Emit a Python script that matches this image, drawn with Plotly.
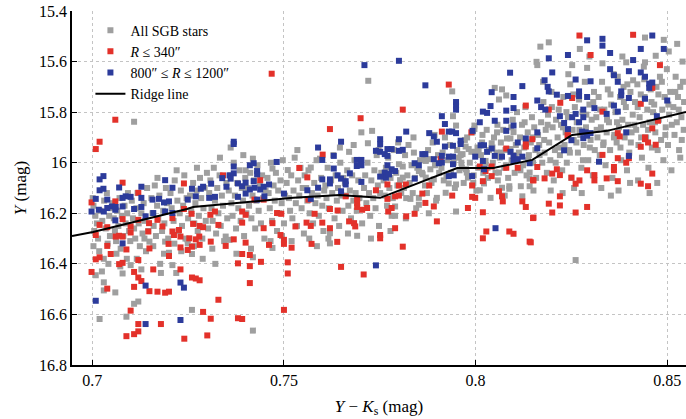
import plotly.graph_objects as go

# ---------------- data ----------------
# All SGB stars: (Y-Ks, Y)
all_sgb = [
(0.7001,16.14),(0.7003,16.17),(0.7008,16.21),(0.7012,16.24),(0.7005,16.27),(0.7015,16.30),(0.7021,16.19),(0.7026,16.23),(0.7031,16.15),(0.7035,16.26),(0.7040,16.32),(0.7044,16.21),(0.7018,16.35),(0.7030,16.38),(0.7009,16.445),(0.7030,16.473),(0.7030,16.505),(0.7019,16.618),(0.7046,16.29),(0.7048,16.18),(0.7003,16.33),(0.7038,16.12),(0.7025,16.43),(0.7042,16.40),
(0.7053,16.16),(0.7056,16.22),(0.7059,16.27),(0.7062,16.31),(0.7065,16.19),(0.7068,16.25),(0.7071,16.14),(0.7074,16.34),(0.7077,16.21),(0.7081,16.29),(0.7084,16.17),(0.7087,16.24),(0.7090,16.38),(0.7093,16.12),(0.7096,16.27),(0.7099,16.31),(0.7079,16.438),(0.7100,16.405),(0.7060,16.513),(0.7089,16.609),(0.7063,16.36),(0.7073,16.41),(0.7091,16.20),
(0.7103,16.15),(0.7106,16.22),(0.7109,16.26),(0.7112,16.30),(0.7115,16.18),(0.7118,16.12),(0.7121,16.24),(0.7124,16.33),(0.7128,16.20),(0.7131,16.28),(0.7134,16.16),(0.7137,16.23),(0.7140,16.35),(0.7143,16.10),(0.7146,16.27),(0.7149,16.312),(0.7128,16.422),(0.7109,16.558),(0.7120,16.549),(0.7109,15.838),(0.7116,16.38),(0.7136,16.30),
(0.7154,16.14),(0.7157,16.20),(0.7160,16.25),(0.7163,16.09),(0.7166,16.29),(0.7169,16.17),(0.7172,16.22),(0.7175,16.13),(0.7179,16.436),(0.7182,16.27),(0.7185,16.19),(0.7188,16.24),(0.7190,16.312),(0.7192,16.10),(0.7195,16.16),(0.7198,16.30),(0.7200,16.356),(0.7159,16.33),(0.7170,16.06),(0.7187,16.36),(0.7177,16.40),
(0.7204,16.12),(0.7207,16.18),(0.7209,16.405),(0.7212,16.23),(0.7215,16.07),(0.7219,16.436),(0.7222,16.15),(0.7225,16.27),(0.7228,16.20),(0.7231,16.11),(0.7234,16.25),(0.7237,16.17),(0.7240,16.05),(0.7243,16.30),(0.7246,16.14),(0.7248,16.303),(0.7249,16.319),(0.7250,16.22),(0.7214,16.32),(0.7232,16.35),(0.7220,16.03),
(0.7255,16.13),(0.7258,16.19),(0.7260,16.361),(0.7260,16.582),(0.7263,16.08),(0.7266,16.24),(0.7269,16.16),(0.7272,16.11),(0.7275,16.27),(0.7278,16.21),(0.7281,16.06),(0.7284,16.14),(0.7287,16.30),(0.7290,16.18),(0.7293,16.10),(0.7296,16.23),(0.7299,16.04),(0.7302,16.26),(0.7265,16.33),(0.7288,16.38),(0.7273,16.02),
(0.7305,16.12),(0.7308,16.07),(0.7311,16.18),(0.7314,16.23),(0.7317,16.02),(0.7320,16.15),(0.7323,16.28),(0.7326,16.10),(0.7329,16.20),(0.7332,16.05),(0.7335,16.25),(0.7338,16.13),(0.7341,16.17),(0.7344,16.31),(0.7348,16.292),(0.7350,16.08),(0.7352,16.22),(0.7313,16.34),(0.7333,15.98),(0.7321,16.40),
(0.7356,16.11),(0.7358,16.305),(0.7360,16.05),(0.7363,16.16),(0.7366,16.21),(0.7369,16.00),(0.7372,16.13),(0.7375,16.26),(0.7378,16.08),(0.7381,16.18),(0.7384,16.03),(0.7387,16.23),(0.7390,16.10),(0.7393,16.15),(0.7396,16.29),(0.7399,16.06),(0.7402,16.20),(0.7361,15.94),(0.7376,16.36),(0.7394,15.97),
(0.7406,16.10),(0.7409,16.17),(0.7412,16.04),(0.7415,16.22),(0.7418,16.13),(0.7419,15.984),(0.7419,16.374),(0.7419,16.664),(0.7422,16.07),(0.7425,16.26),(0.7428,16.15),(0.7431,16.01),(0.7434,16.19),(0.7437,16.09),(0.7440,16.24),(0.7443,16.05),(0.7446,16.14),(0.7449,16.30),(0.7452,16.11),(0.7400,16.03),(0.7414,16.34),
(0.7457,16.06),(0.7460,16.12),(0.7463,16.18),(0.7466,16.00),(0.7469,16.23),(0.7470,16.023),(0.7470,16.337),(0.7473,16.09),(0.7476,16.15),(0.7479,16.04),(0.7482,16.27),(0.7485,16.11),(0.7488,16.20),(0.7491,16.07),(0.7494,16.16),(0.7497,15.99),(0.7500,16.24),(0.7503,16.13),(0.7465,16.31),(0.7495,16.29),
(0.7507,16.08),(0.7510,16.029),(0.7513,16.14),(0.7516,16.19),(0.7519,16.05),(0.7522,16.22),(0.7525,16.11),(0.7528,15.98),(0.7531,16.16),(0.7534,16.25),(0.7537,16.07),(0.7540,16.13),(0.7543,16.02),(0.7546,16.18),(0.7549,16.10),(0.7552,16.28),(0.7554,16.05),(0.7520,16.31),(0.7535,15.95),
(0.7558,16.10),(0.7561,16.15),(0.7564,16.03),(0.7567,16.20),(0.7570,16.019),(0.7573,16.12),(0.7576,16.24),(0.7579,16.08),(0.7582,16.16),(0.7585,15.99),(0.7588,16.13),(0.7591,16.21),(0.7594,15.984),(0.7597,16.06),(0.7600,16.17),(0.7603,16.27),(0.7605,16.11),(0.7566,16.30),(0.7586,16.33),
(0.7608,16.09),(0.7611,16.14),(0.7614,16.02),(0.7617,16.18),(0.7620,16.279),(0.7620,16.319),(0.7623,16.07),(0.7626,16.12),(0.7629,15.97),(0.7632,16.22),(0.7635,16.05),(0.7638,16.15),(0.7641,16.10),(0.7644,16.25),(0.7647,16.00),(0.7650,16.13),(0.7653,16.19),(0.7655,16.06),(0.7616,16.30),(0.7646,15.94),
(0.7659,16.08),(0.7662,16.13),(0.7665,16.03),(0.7668,16.17),(0.7670,15.957),(0.7672,16.11),(0.7675,16.22),(0.7678,16.05),(0.7681,16.15),(0.7684,15.99),(0.7687,16.12),(0.7690,16.19),(0.7691,16.289),(0.7694,16.07),(0.7697,16.14),(0.7700,16.01),(0.7702,15.88),(0.7704,16.24),(0.7667,16.28),(0.7682,15.93),
(0.7709,16.10),(0.7712,16.05),(0.7715,16.16),(0.7718,16.00),(0.7719,15.923),(0.7720,15.676),(0.7722,16.12),(0.7725,16.21),(0.7728,16.07),(0.7730,15.874),(0.7733,16.14),(0.7736,16.03),(0.7739,16.18),(0.7742,15.97),(0.7745,16.09),(0.7748,16.25),(0.7751,16.12),(0.7754,16.04),(0.7727,16.30),(0.7747,15.95),
(0.7760,16.07),(0.7763,16.13),(0.7766,16.02),(0.7769,16.17),(0.7772,15.98),(0.7775,16.10),(0.7778,16.06),(0.7781,16.21),(0.7784,16.14),(0.7787,15.95),(0.7790,16.173),(0.7790,16.21),(0.7793,16.04),(0.7796,16.09),(0.7800,16.006),(0.7803,16.069),(0.7806,16.12),(0.7778,16.27),(0.7798,15.92),
(0.7810,16.015),(0.7810,16.059),(0.7813,16.10),(0.7816,15.97),(0.7819,16.14),(0.7822,16.05),(0.7825,15.93),(0.7828,16.08),(0.7830,16.143),(0.7833,16.01),(0.7836,16.12),(0.7839,15.96),(0.7842,16.06),(0.7845,16.18),(0.7848,16.02),(0.7852,16.033),(0.7852,16.139),(0.7852,16.166),(0.7855,15.99),(0.7818,16.22),(0.7838,15.90),
(0.7860,16.04),(0.7862,16.046),(0.7865,15.98),(0.7868,16.09),(0.7870,15.993),(0.7870,16.059),(0.7873,16.12),(0.7876,15.95),(0.7879,15.986),(0.7882,16.026),(0.7885,16.08),(0.7888,15.92),(0.7891,16.066),(0.7894,16.01),(0.7897,16.15),(0.7899,16.139),(0.7902,15.97),(0.7905,16.04),(0.7878,16.20),(0.7893,15.89),
(0.7911,16.02),(0.7914,15.96),(0.7917,16.07),(0.7920,15.90),(0.7922,16.119),(0.7924,16.053),(0.7927,15.99),(0.7930,16.082),(0.7933,15.93),(0.7936,16.04),(0.7939,15.718),(0.7941,15.816),(0.7943,16.00),(0.7946,16.10),(0.7949,15.853),(0.7949,16.086),(0.7949,16.193),(0.7952,15.95),(0.7956,15.98),(0.7958,16.03),
(0.7961,15.97),(0.7964,16.02),(0.7966,15.966),(0.7969,16.08),(0.7972,15.91),(0.7974,15.936),(0.7975,16.026),(0.7977,16.039),(0.7980,16.059),(0.7982,15.946),(0.7985,16.00),(0.7989,15.957),(0.7992,15.88),(0.7995,16.05),(0.7997,15.853),(0.7997,15.867),(0.7999,15.957),(0.8002,16.11),(0.8005,15.94),(0.8007,16.02),
(0.8011,16.109),(0.8014,15.97),(0.8017,15.92),(0.8020,16.04),(0.8022,16.082),(0.8026,15.993),(0.8026,16.01),(0.8029,15.87),(0.8032,16.06),(0.8035,15.95),(0.8039,16.139),(0.8042,15.923),(0.8045,16.00),(0.8048,15.90),(0.8050,15.704),(0.8052,16.039),(0.8055,15.96),(0.8058,16.07),(0.8061,15.75),(0.8061,16.039),(0.8057,15.85),
(0.8063,15.98),(0.8066,15.92),(0.8069,15.71),(0.8069,16.099),(0.8072,15.87),(0.8075,16.02),(0.8078,15.95),(0.8080,15.734),(0.8082,15.904),(0.8085,16.06),(0.8088,16.093),(0.8088,16.103),(0.8091,15.904),(0.8091,15.946),(0.8094,15.99),(0.8097,15.83),(0.8099,15.879),(0.8102,16.04),(0.8105,15.93),(0.8108,15.80),(0.8076,16.13),
(0.8113,15.96),(0.8116,15.90),(0.8118,16.093),(0.8121,15.85),(0.8124,16.01),(0.8127,15.94),(0.8130,15.78),(0.8133,16.05),(0.8136,15.88),(0.8139,15.97),(0.8141,16.039),(0.8141,16.063),(0.8141,16.093),(0.8144,15.92),(0.8147,15.82),(0.8150,16.00),(0.8153,15.86),(0.8156,15.95),(0.8159,15.601),(0.8161,15.614),(0.8122,16.133),(0.8151,16.11),
(0.8163,15.89),(0.8166,15.93),(0.8169,15.541),(0.8171,15.84),(0.8174,16.00),(0.8177,15.76),(0.8180,15.96),(0.8183,15.87),(0.8186,16.04),(0.8189,15.81),(0.8191,15.524),(0.8192,15.92),(0.8195,15.99),(0.8198,15.72),(0.8201,15.86),(0.8204,16.07),(0.8207,15.95),(0.8210,15.83),(0.8176,15.68),(0.8196,16.11),
(0.8214,15.90),(0.8217,15.79),(0.8220,15.97),(0.8223,15.85),(0.8226,16.03),(0.8229,15.74),(0.8232,15.93),(0.8235,15.88),(0.8238,16.00),(0.8241,15.82),(0.8244,15.95),(0.8247,15.69),(0.8250,16.06),(0.8252,15.614),(0.8253,15.87),(0.8256,15.91),(0.8259,15.78),(0.8261,16.385),(0.8227,16.12),(0.8257,16.10),(0.8242,15.65),
(0.8264,15.84),(0.8267,15.96),(0.8270,15.75),(0.8273,15.89),(0.8276,16.02),(0.8279,15.80),(0.8282,15.93),(0.8285,15.68),(0.8288,15.86),(0.8291,15.625),(0.8294,15.99),(0.8297,15.77),(0.8300,15.91),(0.8303,15.83),(0.8306,16.05),(0.8309,15.72),(0.8311,15.95),(0.8277,16.12),(0.8297,15.58),(0.8272,15.55),
(0.8315,15.82),(0.8318,15.90),(0.8321,15.74),(0.8324,15.97),(0.8327,15.86),(0.8330,15.68),(0.8331,15.607),(0.8333,15.93),(0.8336,15.79),(0.8339,16.01),(0.8342,15.88),(0.8345,15.71),(0.8348,15.84),(0.8351,15.95),(0.8354,15.77),(0.8357,16.06),(0.8360,15.65),(0.8362,15.89),(0.8328,16.10),(0.8353,16.13),
(0.8365,15.80),(0.8368,15.92),(0.8371,15.66),(0.8374,15.86),(0.8377,15.74),(0.8380,15.99),(0.8383,15.83),(0.8386,15.70),(0.8389,15.90),(0.8392,15.78),(0.8393,15.603),(0.8395,16.03),(0.8398,15.85),(0.8401,15.96),(0.8404,15.72),(0.8407,15.88),(0.8410,15.81),(0.8411,15.674),(0.8373,16.11),(0.8403,16.08),(0.8383,15.58),
(0.8416,15.76),(0.8419,15.87),(0.8422,15.69),(0.8425,15.93),(0.8428,15.82),(0.8431,15.73),(0.8434,15.98),(0.8437,15.85),(0.8440,15.67),(0.8442,15.505),(0.8442,15.603),(0.8445,15.90),(0.8448,15.79),(0.8451,16.02),(0.8454,15.84),(0.8457,15.71),(0.8460,15.94),(0.8463,15.80),(0.8424,16.07),(0.8454,16.12),(0.8439,15.62),
(0.8466,15.77),(0.8469,15.88),(0.8470,15.577),(0.8472,15.70),(0.8475,15.95),(0.8478,15.83),(0.8481,15.66),(0.8484,15.91),(0.8487,15.79),(0.8490,15.99),(0.8491,15.514),(0.8493,15.74),(0.8496,15.86),(0.8499,15.63),(0.8502,15.93),(0.8505,15.81),(0.8508,15.72),(0.8511,16.03),(0.8474,16.08),(0.8504,15.56),
(0.8516,15.78),(0.8519,15.89),(0.8522,15.66),(0.8525,15.84),(0.8528,15.74),(0.8531,15.95),(0.8534,15.70),(0.8537,15.82),(0.8540,15.60),(0.8543,15.87),(0.8526,15.53),(0.8534,15.98),(0.8544,15.76),
(0.7963,16.00),(0.7978,15.90),(0.7994,16.08),(0.8008,15.95),(0.8018,15.89),(0.8031,16.02),(0.8044,15.94),(0.8056,15.88),(0.8067,15.96),(0.8079,16.01),(0.8093,15.86),(0.8104,15.97),(0.8117,16.03),(0.8128,15.84),(0.8137,15.99),(0.8149,15.90),(0.8158,16.06),(0.8167,15.97),(0.8179,15.91),(0.8188,15.85),
(0.8199,15.78),(0.8209,16.00),(0.8218,15.94),(0.8228,15.86),(0.8237,15.80),(0.8246,15.96),(0.8255,15.73),(0.8263,15.92),(0.8271,15.87),(0.8280,15.99),(0.8289,15.81),(0.8298,15.94),(0.8307,15.76),(0.8316,15.87),(0.8325,15.79),(0.8334,15.92),(0.8343,15.83),(0.8352,15.73),(0.8361,15.90),(0.8369,15.84),
(0.8378,15.94),(0.8387,15.76),(0.8396,15.69),(0.8405,15.92),(0.8414,15.85),(0.8423,15.78),(0.8432,15.90),(0.8441,15.74),(0.8450,15.87),(0.8459,15.76),(0.8468,15.84),(0.8477,15.73),(0.8486,15.68),(0.8495,15.89),(0.8503,15.77),(0.8512,15.85),(0.8521,15.72),(0.8530,15.79),(0.8538,15.91),(0.8541,15.68),
]

# R <= 340 arcsec
inner_stars = [
(0.7060,15.83),(0.7019,15.917),(0.7009,15.946),(0.6998,16.157),(0.7060,16.153),(0.7079,16.079),(0.7120,16.119),(0.7079,16.223),(0.7019,16.246),(0.7039,16.255),(0.7100,16.252),(0.7120,16.226),(0.7148,16.239),(0.7170,16.226),(0.7183,16.252),(0.7209,16.219),(0.7009,16.286),(0.7061,16.292),(0.7070,16.289),(0.7079,16.292),(0.7100,16.276),(0.7146,16.272),(0.7089,16.343),(0.7039,16.329),(0.7048,16.361),(0.7009,16.382),(0.7019,16.374),(0.7070,16.401),(0.7079,16.396),(0.7120,16.385),(0.7149,16.339),(0.7199,16.321),(0.7200,16.369),(0.6998,16.432),(0.7109,16.432),(0.7120,16.454),(0.7128,16.468),(0.7159,16.422),(0.7109,16.491),(0.7039,16.498),(0.7149,16.508),(0.7170,16.51),(0.7190,16.514),(0.7200,16.51),(0.7100,16.585),(0.7120,16.638),(0.7179,16.638),(0.7120,16.667),(0.7109,16.678),(0.7089,16.686),
(0.7239,16.082),(0.7239,16.183),(0.7259,16.202),(0.7263,16.242),(0.7280,16.25),(0.7289,16.255),(0.7308,16.206),(0.7320,16.193),(0.7329,16.246),(0.7341,16.05),(0.7209,16.272),(0.7213,16.286),(0.7226,16.266),(0.7230,16.292),(0.7253,16.299),(0.7279,16.292),(0.7230,16.335),(0.7249,16.345),(0.7260,16.332),(0.7280,16.325),(0.7270,16.303),(0.7309,16.312),(0.7348,16.329),(0.7230,16.422),(0.7260,16.454),(0.7270,16.458),(0.7280,16.465),(0.7329,16.542),(0.7289,16.59),(0.7309,16.617),(0.7240,16.696),(0.7300,16.683),(0.7468,15.648),
(0.7369,16.303),(0.7400,16.316),(0.7391,16.361),(0.7411,16.365),(0.7380,16.398),(0.7411,16.409),(0.7440,16.392),(0.7461,16.325),(0.7491,16.286),(0.7500,16.305),(0.7500,16.321),(0.7520,16.336),(0.7510,16.394),(0.7510,16.438),(0.7411,16.476),(0.7572,16.321),(0.7639,16.313),(0.7649,16.412),(0.7708,16.442),(0.7500,16.582),(0.7380,16.615),(0.7391,16.618),(0.7751,16.286),(0.7751,16.299),
(0.7700,15.824),(0.7620,15.867),(0.7601,15.968),(0.7540,16.021),(0.7561,16.058),(0.7438,16.069),(0.7423,16.146),(0.7391,16.193),(0.7400,16.206),(0.7447,16.146),(0.7482,16.199),(0.7493,16.202),(0.7564,16.146),(0.7580,16.202),(0.7600,16.237),(0.7620,16.183),(0.7640,16.189),(0.7620,16.259),(0.7559,16.237),(0.7570,16.25),(0.7530,16.252),(0.7470,16.239),(0.7447,16.259),(0.7391,16.237),(0.7670,16.232),(0.7683,16.239),(0.7691,16.143),(0.7691,16.159),(0.7691,16.175),(0.7704,16.186),(0.7717,16.179),(0.7661,16.133),(0.7740,16.109),(0.7686,16.252),
(0.7930,15.691),(0.7810,15.79),(0.7912,15.877),(0.7989,15.88),(0.8131,15.774),(0.8131,15.926),(0.8131,15.936),(0.8148,15.907),(0.8080,15.944),(0.8011,16.015),(0.8026,16.033),(0.8042,16.015),(0.8042,16.053),(0.8019,16.073),(0.8110,16.02),(0.8080,16.02),(0.8150,16.069),(0.7991,16.09),(0.7991,16.135),(0.7999,16.139),(0.8061,16.113),(0.8069,16.133),(0.8071,16.153),(0.8122,16.153),(0.8131,16.175),(0.8150,16.219),(0.8019,16.196),(0.7980,16.179),(0.7939,16.13),(0.7891,16.173),(0.7869,16.159),(0.7861,16.122),(0.7879,16.09),(0.7841,16.202),(0.7819,16.212),(0.7800,16.09),(0.7818,16.086),(0.7770,16.086),(0.7770,16.143),(0.7781,16.179),(0.7772,16.193),(0.7790,16.133),(0.7800,16.13),(0.7899,16.232),(0.7790,16.259),(0.7810,16.332),(0.8028,16.272),(0.8019,16.299),(0.8088,16.272),(0.8099,16.281),(0.8141,16.312),(0.7909,15.986),
(0.8271,15.497),(0.8411,15.494),(0.8300,15.574),(0.8481,15.614),(0.8221,15.763),(0.8252,15.744),(0.8331,15.798),(0.8431,15.767),(0.8461,15.704),(0.8191,15.79),(0.8240,15.891),(0.8371,15.883),(0.8376,15.896),(0.8461,15.864),(0.8442,15.9),(0.8476,15.834),
(0.8161,16.017),(0.8151,16.07),(0.8180,16.062),(0.8200,16.043),(0.8212,16.026),(0.8220,16.049),(0.8250,16.059),(0.8261,16.083),(0.8271,16.07),(0.8291,16.03),(0.8310,16.049),(0.8310,16.07),(0.8331,15.969),(0.8342,16.062),(0.8361,16.017),(0.8361,16.03),(0.8371,15.982),(0.8371,16.073),(0.8393,16.0),(0.8400,15.982),(0.8431,15.937),(0.8442,15.907),(0.8450,15.92),(0.8470,15.929),(0.8431,16.083),(0.8450,16.093),(0.8461,16.043),(0.8220,16.133),(0.8191,16.162),(0.8220,16.169),(0.8200,16.197),(0.8261,16.197),(0.8291,16.175),(0.8151,16.217),(0.8144,16.315),(0.8241,15.893),
]

# 800 <= R <= 1200 arcsec
outer_stars = [
(0.7019,16.066),(0.7029,16.053),(0.7019,16.109),(0.7029,16.103),(0.7009,16.143),(0.7039,16.146),(0.7070,16.098),(0.7128,16.095),(0.7087,16.133),(0.7079,16.139),(0.7100,16.135),(0.7128,16.139),(0.7157,16.146),(0.7187,16.157),(0.7200,16.153),(0.7190,16.069),(0.7209,16.099),(0.7260,16.103),(0.7283,16.103),(0.7289,16.095),(0.7310,16.083),(0.7339,16.061),(0.7358,16.05),(0.7350,16.095),(0.7249,16.146),(0.7270,16.133),(0.7305,16.139),(0.7320,16.135),(0.6998,16.193),(0.7017,16.186),(0.7030,16.193),(0.7039,16.179),(0.7051,16.173),(0.7060,16.186),(0.7061,16.175),(0.7079,16.173),(0.7109,16.183),(0.7128,16.175),(0.7139,16.212),(0.7159,16.199),(0.7174,16.143),(0.7190,16.193),(0.7209,16.199),(0.7060,16.228),(0.7079,16.319),(0.7139,16.486),(0.7230,16.474),(0.7239,16.494),(0.7009,16.546),(0.7139,16.638),(0.7230,16.622),
(0.7751,15.907),(0.7751,15.927),(0.7740,15.953),(0.7751,15.957),(0.7763,15.966),(0.7770,15.946),(0.7649,15.917),(0.7589,15.94),(0.7600,15.989),(0.7630,15.973),(0.7690,15.989),(0.7702,15.989),(0.7690,16.013),(0.7702,16.01),(0.7481,15.997),(0.7411,16.01),(0.7421,16.002),(0.7430,16.033),(0.7430,16.046),(0.7369,16.015),(0.7369,16.042),(0.7361,16.063),(0.7380,16.082),(0.7391,16.093),(0.7400,16.079),(0.7411,16.106),(0.7400,16.122),(0.7421,16.073),(0.7423,16.099),(0.7438,16.106),(0.7447,16.095),(0.7461,16.086),(0.7449,16.133),(0.7430,16.146),(0.7380,16.135),(0.7500,16.122),(0.7561,16.109),(0.7570,16.143),(0.7589,16.099),(0.7600,16.066),(0.7620,16.066),(0.7620,16.082),(0.7630,16.023),(0.7640,16.05),(0.7649,16.063),(0.7661,16.073),(0.7672,16.042),(0.7661,16.086),(0.7649,16.113),(0.7702,16.076),(0.7763,16.039),(0.7774,16.046),(0.7766,16.059),(0.7751,16.055),(0.7369,15.917),(0.7369,15.926),(0.7710,15.614),(0.7800,15.597),(0.7740,16.406),
(0.7869,15.694),(0.7949,15.76),(0.7949,15.774),(0.7949,15.79),(0.7912,15.816),(0.7920,15.847),(0.7930,15.877),(0.7939,15.877),(0.7949,15.883),(0.7992,15.874),(0.7879,15.883),(0.7891,15.896),(0.7899,15.917),(0.7920,15.936),(0.7941,15.933),(0.7961,15.913),(0.7961,15.926),(0.7819,15.877),(0.7800,15.907),(0.7781,15.946),(0.7800,15.953),(0.7810,15.949),(0.7770,15.973),(0.7861,15.966),(0.7869,15.966),(0.7891,15.986),(0.7912,15.973),(0.7930,15.976),(0.7941,15.976),(0.7904,16.002),(0.7912,15.999),(0.7941,16.006),(0.7841,16.002),(0.7852,16.01),(0.7999,15.976),(0.8019,15.993),(0.8013,15.931),(0.8022,15.931),(0.8030,15.957),(0.8042,15.944),(0.8050,15.973),(0.8069,15.976),(0.8091,15.957),(0.8099,15.973),(0.8099,15.993),(0.8110,15.986),(0.8122,15.976),(0.8141,16.002),(0.8110,15.92),(0.8131,15.904),(0.8080,15.874),(0.8080,15.834),(0.8080,15.794),(0.8099,15.853),(0.8099,15.784),(0.8099,15.74),(0.8122,15.697),(0.8090,15.644),(0.8042,15.721),(0.8039,15.776),(0.8019,15.798),(0.8030,15.803),(0.8050,15.834),(0.8011,15.84),(0.8052,16.259),(0.7770,16.01),(0.7781,16.026),(0.7790,16.033),(0.7773,16.045),(0.7841,16.063),(0.7991,16.053),(0.8022,16.026),(0.7943,16.05),(0.7930,16.053),
(0.8291,15.516),(0.8331,15.51),(0.8331,15.537),(0.8461,15.497),(0.8351,15.566),(0.8431,15.55),(0.8491,15.55),(0.8241,15.574),(0.8191,15.587),(0.8411,15.594),(0.8200,15.643),(0.8180,15.674),(0.8261,15.671),(0.8300,15.678),(0.8351,15.63),(0.8361,15.654),(0.8371,15.68),(0.8400,15.638),(0.8431,15.643),(0.8442,15.66),(0.8453,15.687),(0.8461,15.683),(0.8453,15.704),(0.8500,15.754),(0.8188,15.70),(0.8191,15.718),(0.8212,15.731),(0.8161,15.754),(0.8241,15.736),(0.8270,15.718),(0.8270,15.736),(0.8291,15.74),(0.8380,15.718),(0.8380,15.734),(0.8400,15.744),(0.8442,15.747),(0.8281,15.79),(0.8310,15.784),(0.8361,15.774),(0.8371,15.798),(0.8342,15.807),(0.8171,15.78),(0.8182,15.79),(0.8220,15.816),(0.8261,15.807),(0.8252,15.82),(0.8281,15.82),(0.8231,15.843),(0.8270,15.84),(0.8241,15.867),(0.8278,15.877),(0.8287,15.88),(0.8300,15.883),(0.8161,15.88),(0.8473,15.816),(0.8393,15.88),(0.8161,15.943),(0.8231,15.951),(0.8250,15.911),(0.8322,15.996),(0.8400,15.973),(0.8281,15.903),(0.8291,15.893),
]

# ridge line
ridge_x = [0.6947, 0.7002, 0.7247, 0.7263, 0.7524, 0.7646, 0.7672, 0.7751,
           0.7952, 0.8046, 0.8148, 0.8252, 0.8343, 0.8549]
ridge_y = [16.290, 16.274, 16.183, 16.175, 16.139, 16.128, 16.131, 16.139,
           16.021, 16.021, 15.989, 15.890, 15.874, 15.799]

x_ticks = [0.7, 0.75, 0.8, 0.85]
x_tick_text = ["0.7", "0.75", "0.8", "0.85"]
y_ticks = [15.4, 15.6, 15.8, 16.0, 16.2, 16.4, 16.6, 16.8]
y_tick_text = ["15.4", "15.6", "15.8", "16", "16.2", "16.4", "16.6", "16.8"]

# ---------------- figure ----------------
GRAY = "#9f9f9f"
RED = "#e3312a"
BLUE = "#2c3b9b"
FONT = "Liberation Serif"

def xs(pts):
    return [p[0] for p in pts]

def ys(pts):
    return [p[1] for p in pts]

fig = go.Figure()
fig.add_trace(go.Scatter(x=xs(all_sgb), y=ys(all_sgb), mode="markers",
                         name="All SGB stars",
                         marker=dict(symbol="square", size=6, color=GRAY, line=dict(width=0))))
fig.add_trace(go.Scatter(x=xs(inner_stars), y=ys(inner_stars), mode="markers",
                         name="<i>R</i> ≤ 340″",
                         marker=dict(symbol="square", size=6, color=RED, line=dict(width=0))))
fig.add_trace(go.Scatter(x=xs(outer_stars), y=ys(outer_stars), mode="markers",
                         name="800″ ≤ <i>R</i> ≤ 1200″",
                         marker=dict(symbol="square", size=6, color=BLUE, line=dict(width=0))))
fig.add_trace(go.Scatter(x=ridge_x, y=ridge_y, mode="lines", name="Ridge line",
                         line=dict(color="black", width=2)))

axis_common = dict(
    showline=True, linecolor="black", linewidth=1.5, mirror=False,
    ticks="inside", ticklen=5, tickwidth=1, tickcolor="black",
    showgrid=True, gridcolor="#c4c4c4", griddash="dot", gridwidth=1,
    zeroline=False, tickfont=dict(family=FONT, size=16, color="black"),
)

fig.update_xaxes(range=[0.6947, 0.8549], tickvals=x_ticks, ticktext=x_tick_text,
                 title=dict(text="<i>Y</i> − <i>K</i><sub>s</sub> (mag)",
                            font=dict(family=FONT, size=17, color="black"), standoff=12),
                 **axis_common)
fig.update_yaxes(range=[16.8, 15.4], tickvals=y_ticks, ticktext=y_tick_text,
                 title=dict(text="<i>Y</i> (mag)",
                            font=dict(family=FONT, size=17, color="black"), standoff=8),
                 **axis_common)

fig.update_layout(
    width=686, height=419,
    margin=dict(l=72, r=0, t=11, b=54),
    paper_bgcolor="white", plot_bgcolor="white",
    showlegend=True,
    legend=dict(x=0.03, y=0.99, xanchor="left", yanchor="top",
                bgcolor="rgba(255,255,255,0)", borderwidth=0,
                font=dict(family=FONT, size=14, color="black"),
                itemwidth=30, tracegroupgap=0),
    font=dict(family=FONT, color="black"),
)

fig.write_html("out.html")
